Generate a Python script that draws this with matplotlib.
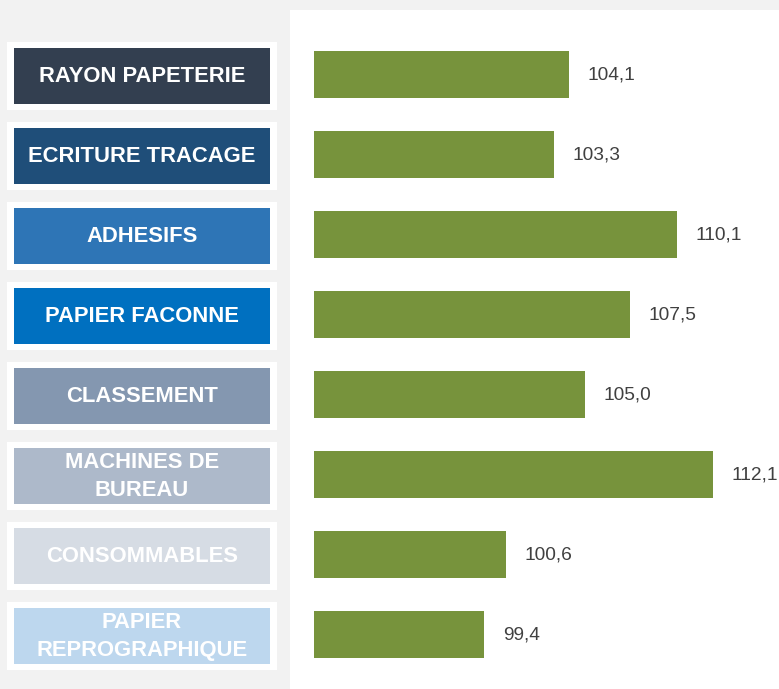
import matplotlib
matplotlib.use("Agg")
from matplotlib import pyplot as plt
from matplotlib.patches import Rectangle

plt.rcParams['font.family'] = ['Liberation Sans', 'DejaVu Sans']

# Data
categories = ['RAYON PAPETERIE', 'ECRITURE TRACAGE', 'ADHESIFS', 'PAPIER FACONNE',
              'CLASSEMENT', 'MACHINES DE\nBUREAU', 'CONSOMMABLES', 'PAPIER\nREPROGRAPHIQUE']
values = [104.1, 103.3, 110.1, 107.5, 105.0, 112.1, 100.6, 99.4]
labels = ['104,1', '103,3', '110,1', '107,5', '105,0', '112,1', '100,6', '99,4']
box_colors = ['#333f50', '#1f4e79', '#2e75b6', '#0070c0',
              '#8497b0', '#adb9ca', '#d6dce4', '#bdd7ee']
base = 90

W, H = 779, 689
fig = plt.figure(figsize=(W / 100, H / 100), dpi=100, facecolor='#f2f2f2')

# panneau blanc derrière les barres
fig.patches.append(Rectangle((290 / W, 0), 489 / W, 679 / H, transform=fig.transFigure,
                             facecolor='white', edgecolor='none', zorder=-10))

ylim = ((689 - 74.5) / 80, -74.5 / 80)
ypos = list(range(len(categories)))

# Etiquettes à gauche
axl = fig.add_axes([0, 0, 290 / W, 1])
axl.set_xlim(0, 290)
axl.set_ylim(*ylim)
axl.axis('off')
for i, (cat, col) in enumerate(zip(categories, box_colors)):
    yc = i + 0.02
    axl.add_patch(Rectangle((7, yc - 0.425), 270, 0.85, facecolor='white', edgecolor='none'))
    axl.add_patch(Rectangle((14, yc - 0.35), 256, 0.70, facecolor=col, edgecolor='none'))
    axl.text(142, yc, cat, color='white', fontsize=15.8, fontweight='bold',
             ha='center', va='center', linespacing=1.45)

# Barres
ax = fig.add_axes([290 / W, 0, 489 / W, 1])
ax.set_facecolor('none')
ax.barh(ypos, [v - base for v in values], left=base, height=0.59, color='#77933c')
ax.set_ylim(*ylim)
ax.set_xlim(base - 24.3 / 18.04, base + (779 - 314.3) / 18.04)
ax.axis('off')
for y, v, lab in zip(ypos, values, labels):
    ax.annotate(lab, (v, y), xytext=(13.5, 0), textcoords='offset points',
                ha='left', va='center', fontsize=13.8, color='#404040')

fig.savefig('out.png', dpi=100, facecolor=fig.get_facecolor())
